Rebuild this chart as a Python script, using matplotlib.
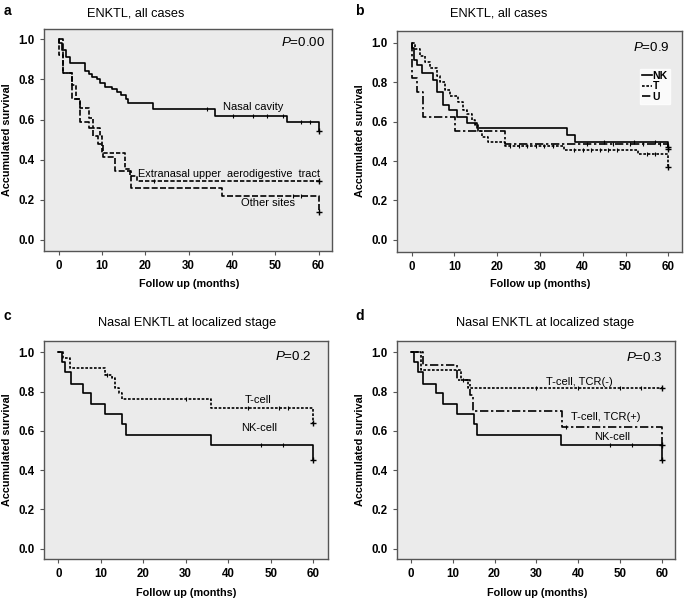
import numpy as np
import matplotlib
matplotlib.use("Agg")
import matplotlib.pyplot as plt
from matplotlib.lines import Line2D

plt.rcParams['font.family'] = ['Liberation Sans', 'DejaVu Sans']
plt.rcParams['mathtext.fontset'] = 'custom'
plt.rcParams['mathtext.rm'] = 'Liberation Sans'
plt.rcParams['mathtext.it'] = 'Liberation Sans:italic'

# ---------------- data (months, survival) ----------------
xticks = [0, 10, 20, 30, 40, 50, 60]
yticks = [0.0, 0.2, 0.4, 0.6, 0.8, 1.0]

# panel a
nasal_t = [0, 0.7, 1.7, 2.6, 6.1, 6.9, 7.6, 8.8, 9.5, 10.7, 12.2, 13.4, 14.5, 15.5, 16.1, 21.8, 36.1, 52.8, 60]
nasal_s = [0.98, 0.945, 0.91, 0.883, 0.84, 0.825, 0.81, 0.80, 0.78, 0.76, 0.75, 0.735, 0.72, 0.70, 0.68, 0.65, 0.617, 0.59, 0.545]
nasal_c = [34.2, 40.3, 44.9, 48.0, 51.9, 56.0, 58.0]
extra_t = [0, 0.1, 0.9, 3.0, 4.1, 4.9, 7.1, 8.0, 9.5, 9.9, 15.3, 16.5, 18.0, 60]
extra_s = [1.0, 0.92, 0.83, 0.77, 0.70, 0.658, 0.61, 0.56, 0.52, 0.433, 0.353, 0.32, 0.295, 0.295]
extra_c = [22.0]
other_t = [0, 0.9, 3.0, 4.9, 7.1, 8.0, 9.0, 10.3, 13.0, 16.7, 37.7, 60]
other_s = [1.0, 0.83, 0.70, 0.587, 0.56, 0.52, 0.48, 0.413, 0.345, 0.258, 0.217, 0.14]
other_c = [54.0, 56.0]

# panel b
nk_t = [0, 0.54, 1.3, 2.3, 4.9, 5.8, 7.4, 8.8, 10.5, 12.9, 15.2, 36.2, 38.2, 60]
nk_s = [0.972, 0.912, 0.887, 0.848, 0.81, 0.752, 0.684, 0.659, 0.625, 0.595, 0.566, 0.532, 0.498, 0.47]
nk_c = [45.0, 52.0, 57.0]
t_t = [0, 0.77, 1.9, 3.1, 4.3, 5.8, 6.6, 7.8, 9.0, 10.9, 12.1, 12.9, 14.0, 14.8, 15.6, 16.4, 17.9, 21.8, 35.5, 53.0, 60]
t_s = [1.0, 0.97, 0.93, 0.90, 0.87, 0.83, 0.80, 0.76, 0.73, 0.70, 0.66, 0.64, 0.61, 0.585, 0.55, 0.52, 0.498, 0.478, 0.456, 0.434, 0.371]
t_c = [23.0, 25.0, 27.0, 29.0, 31.0, 33.0, 38.0, 40.0, 42.0, 44.0, 46.0, 48.0, 55.0, 57.0]
u_t = [0, 0.1, 1.2, 2.7, 10.1, 21.8, 60]
u_s = [1.0, 0.82, 0.752, 0.625, 0.552, 0.487, 0.46]
u_c = [41.0, 47.0, 51.0, 54.0, 58.0]

# panels c and d (NK-cell curve is the same patients)
nkl_t = [0, 0.8, 1.6, 2.9, 5.9, 7.6, 11.0, 15.1, 15.9, 35.9, 60]
nkl_s = [1.0, 0.95, 0.90, 0.84, 0.79, 0.737, 0.686, 0.635, 0.58, 0.53, 0.45]
nkl_c = [47.7, 53.0]
tc_t = [0, 1.2, 2.7, 11.0, 12.6, 13.3, 14.2, 14.9, 35.9, 60]
tc_s = [1.0, 0.97, 0.92, 0.885, 0.87, 0.82, 0.79, 0.76, 0.715, 0.64]
tc_c = [11.5, 30.0, 44.6, 52.0, 54.0]
tneg_t = [0, 2.5, 11.9, 13.7, 60]
tneg_s = [1.0, 0.91, 0.86, 0.817, 0.817]
tneg_c = [12.5, 30.0, 40.0, 50.0, 55.0]
tpos_t = [0, 2.9, 10.9, 14.1, 14.9, 36.1, 60]
tpos_s = [1.0, 0.935, 0.86, 0.78, 0.70, 0.62, 0.53]
tpos_c = [37.0]

W, H = 685, 600
fig = plt.figure(figsize=(W / 100, H / 100), dpi=100)

def box(l, r, t, b):
    return [l / W, 1 - b / H, (r - l) / W, (b - t) / H]

panels = {
    'a': dict(rect=box(44, 332, 29, 251), xlim=(-3.39, 63.1), ylim=(-0.055, 1.051)),
    'b': dict(rect=box(397, 682, 31, 252), xlim=(-3.44, 63.2), ylim=(-0.061, 1.059)),
    'c': dict(rect=box(44, 328, 341, 559), xlim=(-3.36, 63.5), ylim=(-0.052, 1.057)),
    'd': dict(rect=box(397, 675, 341, 559), xlim=(-3.35, 63.2), ylim=(-0.052, 1.057)),
}

frame_col = '#555555'
bg_col = '#ebebeb'

axes = {}
for k, p in panels.items():
    ax = fig.add_axes(p['rect'])
    ax.set_facecolor(bg_col)
    ax.set_xlim(*p['xlim'])
    ax.set_ylim(*p['ylim'])
    ax.set_xticks(xticks)
    ax.set_yticks(yticks)
    ax.set_xticklabels([str(v) for v in xticks], fontweight='bold', fontsize=8.3)
    ax.set_yticklabels(['%.1f' % v for v in yticks], fontweight='bold', fontsize=8.3)
    ax.tick_params(direction='out', length=3, width=0.8, color=frame_col, pad=3.5)
    for s in ax.spines.values():
        s.set_color(frame_col)
        s.set_linewidth(1.0)
    axes[k] = ax

def surv_at(times, surv, t):
    i = np.searchsorted(times, t, side='right') - 1
    return surv[max(i, 0)]

def km(ax, times, surv, cens, ls, lw=1.2, label=None):
    t = list(times)
    s = list(surv)
    if s[0] != 1.0:
        t = [0] + t
        s = [1.0] + s
    ax.step(t, s, where='post', color='black', lw=lw, linestyle=ls, label=label)
    cy = [surv_at(t, s, c) for c in cens]
    ax.plot(cens, cy, linestyle='none', marker='|', ms=3.5, mew=0.8, color='black')
    ax.plot([t[-1]], [s[-1]], linestyle='none', marker='+', ms=4, mew=1.0, color='black')

dot = (0, (1.6, 1.0))
dash_a = (0, (2.6, 1.2))
dash_b = (0, (3.6, 1.4))
dashdot = (0, (5, 1.6, 1.4, 1.6))

# panel a
ax = axes['a']
km(ax, nasal_t, nasal_s, nasal_c, '-')
km(ax, extra_t, extra_s, extra_c, dash_a)
km(ax, other_t, other_s, other_c, dash_b)
ax.text(45, 0.663, 'Nasal cavity', ha='center', va='center', fontsize=8)
ax.text(39.4, 0.327, 'Extranasal upper  aerodigestive  tract', ha='center', va='center', fontsize=7.8)
ax.text(48.3, 0.183, 'Other sites', ha='center', va='center', fontsize=8)
ax.text(61.5, 0.983, '$P$=0.00', ha='right', va='center', fontsize=9.6)

# panel b
ax = axes['b']
km(ax, nk_t, nk_s, nk_c, '-', label='NK')
km(ax, t_t, t_s, t_c, dot, label='T')
km(ax, u_t, u_s, u_c, dashdot, label='U')
handles = [Line2D([], [], color='black', lw=1.2, ls='-'),
           Line2D([], [], color='black', lw=1.2, ls=dot),
           Line2D([], [], color='black', lw=1.2, ls=dashdot)]
leg = ax.legend(handles, ['NK', 'T', 'U'], loc='upper left', bbox_to_anchor=(0.853, 0.83),
                prop={'weight': 'bold', 'size': 7.5}, handlelength=0.9, handletextpad=0.1,
                borderpad=0.2, labelspacing=0.05, borderaxespad=0, frameon=True, fancybox=False)
leg.get_frame().set_facecolor('white')
leg.get_frame().set_edgecolor('white')
ax.text(60.4, 0.977, '$P$=0.9', ha='right', va='center', fontsize=9.6)

# panel c
ax = axes['c']
km(ax, nkl_t, nkl_s, nkl_c, '-')
km(ax, tc_t, tc_s, tc_c, dot)
ax.text(47, 0.757, 'T-cell', ha='center', va='center', fontsize=8)
ax.text(47.4, 0.614, 'NK-cell', ha='center', va='center', fontsize=8)
ax.text(59.6, 0.978, '$P$=0.2', ha='right', va='center', fontsize=9.6)

# panel d
ax = axes['d']
km(ax, nkl_t, nkl_s, nkl_c, '-')
km(ax, tneg_t, tneg_s, tneg_c, dot)
km(ax, tpos_t, tpos_s, tpos_c, dashdot)
ax.text(40.2, 0.85, 'T-cell, TCR(-)', ha='center', va='center', fontsize=8)
ax.text(46.7, 0.668, 'T-cell, TCR(+)', ha='center', va='center', fontsize=8)
ax.text(48.1, 0.571, 'NK-cell', ha='center', va='center', fontsize=8)
ax.text(60.2, 0.975, '$P$=0.3', ha='right', va='center', fontsize=9.6)

# titles, letters, axis labels in figure pixels
def ftext(x, y, s, **kw):
    fig.text(x / W, 1 - y / H, s, **kw)

ftext(4, 11, 'a', fontsize=10, fontweight='bold', ha='left', va='center')
ftext(355, 11, 'b', fontsize=10, fontweight='bold', ha='left', va='center')
ftext(4, 316, 'c', fontsize=10, fontweight='bold', ha='left', va='center')
ftext(355, 316, 'd', fontsize=10, fontweight='bold', ha='left', va='center')

ftext(136, 14, 'ENKTL, all cases', fontsize=9.2, ha='center', va='center')
ftext(499, 14, 'ENKTL, all cases', fontsize=9.2, ha='center', va='center')
ftext(187, 323, 'Nasal ENKTL at localized stage', fontsize=9.2, ha='center', va='center')
ftext(545, 323, 'Nasal ENKTL at localized stage', fontsize=9.2, ha='center', va='center')

for x, y in [(7, 140), (360, 141), (7, 450), (360, 450)]:
    ftext(x, y, 'Accumulated survival', fontsize=7.8, fontweight='bold', rotation=90, ha='center', va='center')
for x, y in [(189, 284), (540, 284), (186, 593), (537, 593)]:
    ftext(x, y, 'Follow up (months)', fontsize=7.8, fontweight='bold', ha='center', va='center')

fig.savefig('out.png', dpi=100)
